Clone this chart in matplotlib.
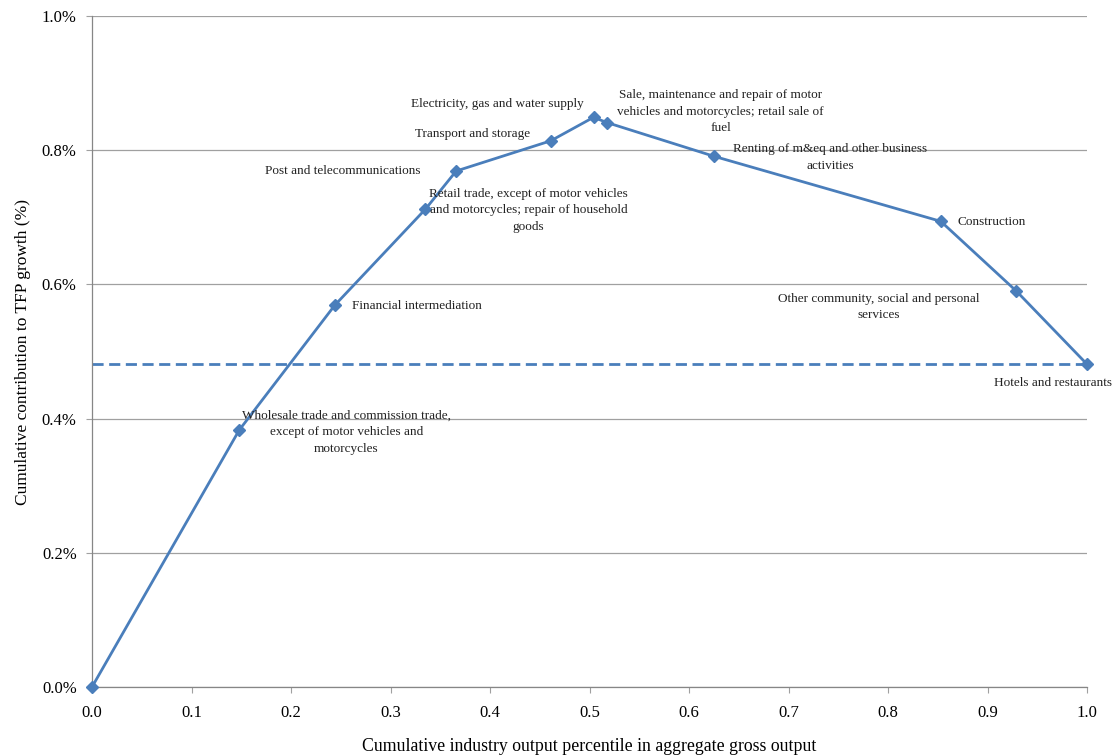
import matplotlib
matplotlib.use("Agg")
import matplotlib.pyplot as plt
import matplotlib.ticker as ticker

plt.rcParams['font.family'] = ['Liberation Serif', 'DejaVu Serif']

# cumulative output share and cumulative TFP contribution (%)
cum_output = [0.0, 0.148, 0.244, 0.335, 0.366, 0.461, 0.504, 0.518, 0.625, 0.853, 0.929, 1.0]
cum_tfp = [0.0, 0.383, 0.569, 0.712, 0.769, 0.814, 0.849, 0.841, 0.791, 0.694, 0.590, 0.481]
industries = [
    None,
    "Wholesale trade and commission trade,\nexcept of motor vehicles and\nmotorcycles",
    "Financial intermediation",
    "Retail trade, except of motor vehicles\nand motorcycles; repair of household\ngoods",
    "Post and telecommunications",
    "Transport and storage",
    "Electricity, gas and water supply",
    "Sale, maintenance and repair of motor\nvehicles and motorcycles; retail sale of\nfuel",
    "Renting of m&eq and other business\nactivities",
    "Construction",
    "Other community, social and personal\nservices",
    "Hotels and restaurants",
]
aggregate_tfp = 0.481

# label offsets in pixels from each point (dx, dy, ha)
offsets = [
    None,
    (107, -2, 'center'),
    (17, -1, 'left'),
    (103, -1, 'center'),
    (-36, 0, 'right'),
    (-21, 7, 'right'),
    (-10, 13, 'right'),
    (113, 11, 'center'),
    (116, -1, 'center'),
    (17, -1, 'left'),
    (-138, -16, 'center'),
    (-34, -19, 'center'),
]

blue = '#4a7ebb'

fig = plt.figure(figsize=(11.18, 7.56), dpi=100)
ax = fig.add_axes([0.0823, 0.0913, 0.8900, 0.8875])

ax.axhline(aggregate_tfp, color=blue, lw=2.0, ls=(0, (4, 2)), zorder=2)
ax.plot(cum_output, cum_tfp, color=blue, lw=2.0, marker='D', markersize=6.5,
        zorder=3, clip_on=False)

for x, y, name, off in zip(cum_output, cum_tfp, industries, offsets):
    if name is None:
        continue
    dx, dy, ha = off
    ax.annotate(name, (x, y), xytext=(dx * 0.72, dy * 0.72), textcoords='offset points',
                ha=ha, va='center', multialignment='center', fontsize=9.5,
                linespacing=1.5, color='#222222')

ax.set_xlim(0, 1)
ax.set_ylim(0, 1.0)
ax.xaxis.set_major_locator(ticker.MultipleLocator(0.1))
ax.yaxis.set_major_locator(ticker.MultipleLocator(0.2))
ax.xaxis.set_major_formatter(ticker.FuncFormatter(lambda v, p: '%.1f' % v))
ax.yaxis.set_major_formatter(ticker.FuncFormatter(lambda v, p: '%.1f%%' % v))

ax.yaxis.grid(True, color='#a0a0a0', lw=0.9)
ax.set_axisbelow(True)
for s in ['top', 'right']:
    ax.spines[s].set_visible(False)
for s in ['left', 'bottom']:
    ax.spines[s].set_color('#868686')
    ax.spines[s].set_linewidth(0.9)
ax.tick_params(axis='both', direction='out', length=4, color='#a0a0a0', labelsize=12)
ax.tick_params(axis='x', pad=9)
ax.tick_params(axis='y', pad=7)

ax.set_xlabel('Cumulative industry output percentile in aggregate gross output', fontsize=12.8, labelpad=12)
ax.set_ylabel('Cumulative contribution to TFP growth (%)', fontsize=12.5, labelpad=8)

fig.savefig('out.png', dpi=100)
